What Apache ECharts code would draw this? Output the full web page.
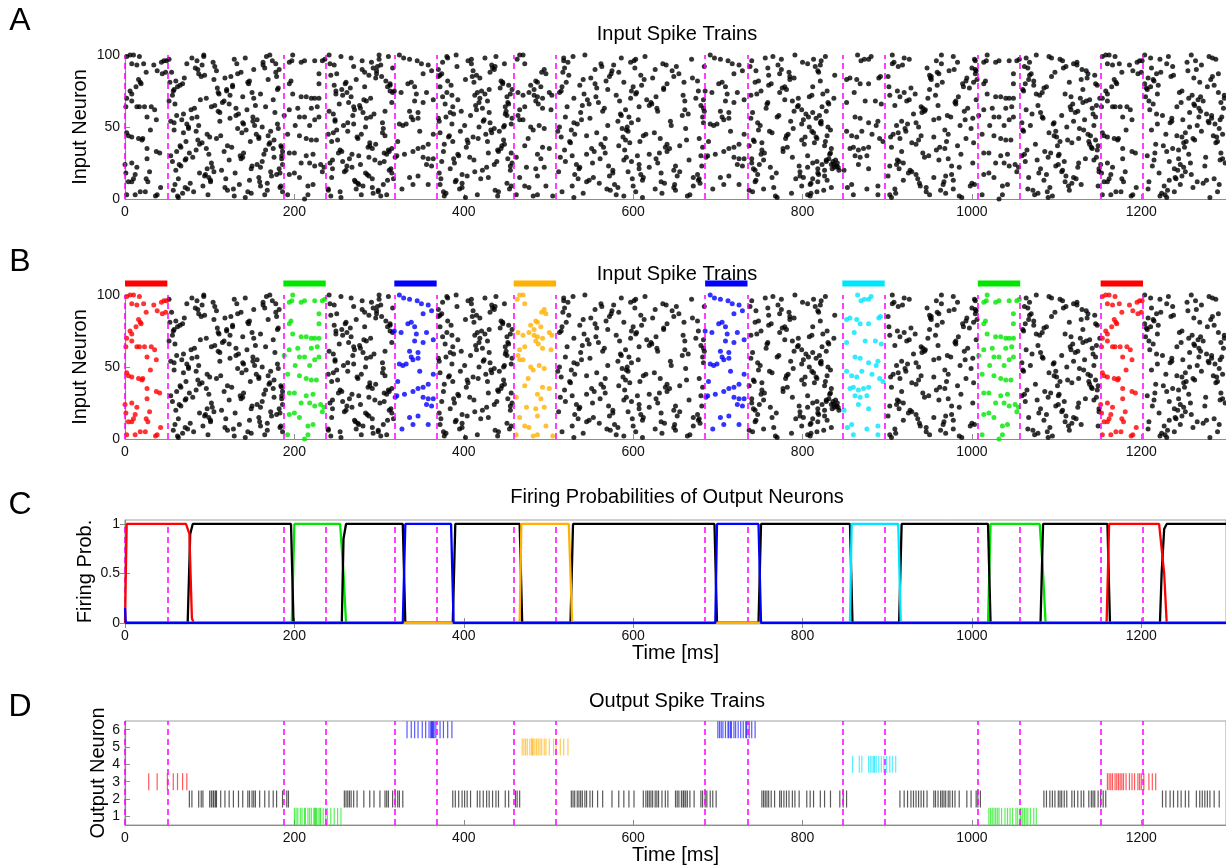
<!DOCTYPE html>
<html><head><meta charset="utf-8">
<script src="https://cdn.jsdelivr.net/npm/echarts@6/dist/echarts.min.js"></script>
<style>html,body{margin:0;padding:0;background:#fff;}#c{width:1226px;height:866px;}</style>
</head><body><div id="c"></div>
<script>
// ---------- DATA ----------
const xTicks = [0,200,400,600,800,1000,1200];
const windowStarts = [0,187,318,459,685,847,1007,1152];
const windowLen = 50;
const windowPattern = ['red','green','blue','orange','blue','cyan','green','red'];
const boundaries = [0,50,187,237,318,368,459,509,685,735,847,897,1007,1057,1152,1202];

// background input spikes (ms); row k belongs to input neuron bgRowNeuron[k]
const bgRowNeuron = [1,38,75,12,49,86,23,60,97,34,71,8,45,82,19,56,93,30,67,4,41,78,15,52,89,26,63,100,37,74,11,48,85,22,59,96,33,70,7,44,81,18,55,92,29,66,3,40,77,14,51,88,25,62,99,36,73,10,47,84,21,58,95,32,69,6,43,80,17,54,91,28,65,2,39,76,13,50,87,24,61,98,35,72,9,46,83,20,57,94,31,68,5,42,79,16,53,90,27,64];
const bgSpikes = [
[63,142,255,402,530,611,770,905,988,1090,1230,1281],
[88,170,296,377,448,562,640,802,934,1075,1139,1217],
[57,120,249,313,421,515,598,677,751,829,912,1061,1248],
[101,159,272,390,545,633,744,818,967,1110,1209,1266],
[75,133,181,305,436,587,662,789,921,999,1127,1292],
[94,243,288,372,415,524,609,760,838,950,1068,1145,1238],
[66,150,262,455,571,650,681,796,903,976,1099,1213,1275],
[112,177,281,384,430,538,741,812,941,1081,1122,1257],
[52,129,300,409,603,669,775,813,926,1003,1104,1222,1288],
[84,166,254,311,440,519,590,752,958,1065,1148,1244],
[139,267,375,451,556,627,808,915,984,1117,1205,1270],
[71,118,183,292,398,582,648,766,834,946,1092,1261],
[97,155,240,279,426,531,615,783,907,972,1137,1229,1296],
[60,147,308,381,444,568,676,748,821,993,1073,1215],
[105,172,259,413,512,594,655,797,929,1106,1150,1252],
[79,124,285,370,457,549,739,816,961,1001,1084,1236,1283],
[91,163,247,302,433,577,639,771,821,918,1124,1271],
[54,136,185,276,394,528,605,680,806,949,1059,1102,1207],
[115,264,315,418,452,559,621,759,830,980,1131,1247,1294],
[68,149,293,379,541,634,787,810,910,969,1078,1224],
[86,176,251,404,447,591,663,742,799,937,1113,1146,1263],
[62,127,283,310,372,516,600,779,812,902,990,1088,1211,1278],
[99,158,244,429,553,612,671,764,801,955,1067,1120,1240],
[73,140,180,270,386,456,534,799,822,924,1096,1219,1287],
[108,297,411,575,646,745,818,973,1005,1135,1255],
[56,162,257,306,374,439,520,598,817,828,914,1063,1109,1233],
[82,131,278,422,566,628,683,757,942,995,1142,1268,1297],
[93,171,241,300,391,543,791,906,964,1076,1204,1259],
[65,121,184,289,445,583,655,737,826,983,1101,1149,1226],
[110,150,262,316,380,416,513,604,773,920,1083,1245,1291],
[77,168,275,398,451,560,637,679,810,938,1000,1118,1273],
[58,143,250,432,527,592,748,833,968,1060,1132,1212],
[90,125,179,303,370,410,572,648,785,901,952,1094,1235,1284],
[103,160,268,427,537,619,762,806,985,1125,1250],
[69,134,246,294,388,449,585,665,804,931,1071,1143,1218,1277],
[85,174,280,405,518,601,740,822,958,1004,1107,1264],
[61,117,186,256,312,376,441,554,640,777,917,1086,1230],
[96,152,290,419,530,597,674,795,837,948,1128,1151,1256,1298],
[74,128,240,273,395,454,569,626,754,909,978,1066,1208],
[113,169,307,383,545,612,781,829,940,1097,1140,1242,1285],
[53,145,261,412,446,521,589,660,744,965,1002,1115,1269],
[88,130,183,284,315,371,576,633,769,818,925,1079,1221],
[67,156,248,424,539,606,801,955,992,1133,1249,1293],
[106,270,298,392,437,563,651,684,738,815,913,1062,1111,1237],
[80,139,176,288,407,514,592,788,944,1090,1147,1276],
[59,123,253,378,453,548,622,758,831,981,1119,1214,1262],
[98,165,279,309,416,580,667,806,903,950,1074,1228],
[72,148,244,387,428,525,608,743,827,970,1104,1138,1253,1290],
[109,181,266,443,557,636,776,928,997,1085,1206],
[63,119,292,317,373,420,535,599,678,792,812,936,1123,1241,1286],
[87,153,258,401,448,570,645,750,911,986,1069,1144,1266],
[55,137,178,283,431,517,583,784,819,959,1098,1223],
[102,242,301,389,457,552,629,740,812,919,1001,1126,1258,1299],
[78,144,271,415,591,661,799,945,1064,1117,1210],
[93,167,255,311,380,438,529,614,765,827,978,1091,1232,1280],
[66,126,185,287,403,565,638,682,782,905,962,1141,1251],
[111,160,249,425,455,542,603,746,824,933,1076,1110,1219],
[59,135,276,305,372,578,649,809,966,1003,1129,1246,1292],
[84,172,263,396,442,511,594,761,811,922,1061,1099,1271],
[70,118,296,419,550,623,670,790,951,994,1136,1208,1262],
[97,149,182,245,314,384,536,607,742,818,914,1081,1150,1239],
[61,131,269,408,451,586,658,772,820,971,1106,1225,1283],
[104,163,291,375,523,597,800,908,983,1068,1124,1254],
[76,140,252,306,429,456,567,631,755,833,942,1093,1216,1294],
[89,175,282,393,546,616,683,779,926,1005,1139,1267],
[57,121,168,240,299,437,573,650,737,825,963,1072,1115,1231],
[100,158,274,382,411,515,588,803,816,904,955,1100,1248,1289],
[68,146,260,313,446,555,640,763,989,1063,1146,1204],
[95,179,286,398,531,609,676,747,819,934,976,1088,1259],
[54,112,151,248,371,423,582,644,786,822,917,1120,1236,1279],
[83,165,293,316,434,519,602,759,947,1000,1066,1108,1212],
[72,137,185,265,388,452,561,627,740,831,972,1134,1244,1296],
[106,154,277,414,540,619,680,795,909,960,1078,1147,1263],
[62,129,243,302,377,440,589,664,768,809,985,1095,1222],
[91,171,289,405,526,596,752,814,929,1002,1118,1250,1288],
[58,120,180,256,430,457,570,636,781,950,1060,1131,1207],
[101,147,271,310,391,548,611,677,745,829,919,978,1085,1233,1277],
[75,162,284,418,447,513,593,808,830,937,1112,1257],
[87,133,250,297,374,574,654,773,961,1004,1070,1137,1218,1291],
[64,156,186,278,436,533,607,749,823,911,1102,1246],
[110,241,307,397,450,564,629,684,790,828,944,991,1125,1270],
[79,142,267,381,425,518,586,756,920,1064,1094,1211,1284],
[96,175,292,315,444,551,643,777,834,968,1142,1237],
[56,124,257,386,413,580,659,739,811,903,957,1080,1260,1298],
[92,160,184,281,456,528,600,671,799,939,998,1114,1149,1227],
[69,138,246,304,372,433,557,625,764,813,913,1091,1252],
[105,169,273,402,541,613,785,952,1006,1067,1129,1214,1282],
[60,114,261,312,422,455,576,648,744,826,927,1107,1243],
[85,151,290,379,520,595,682,770,807,975,1083,1146,1268,1295],
[73,132,178,242,409,448,562,635,806,906,964,1120,1230],
[99,164,268,309,393,545,619,751,832,987,1062,1103,1256],
[52,117,285,428,584,661,788,923,981,1135,1209,1273],
[81,145,186,254,299,376,441,516,603,741,817,946,1089,1239,1290],
[108,158,275,417,567,632,678,780,817,915,993,1126,1261],
[65,127,247,313,385,453,537,610,760,959,1073,1148,1220,1286],
[94,173,288,404,572,652,797,826,901,969,1111,1248],
[58,139,263,304,431,530,598,683,747,821,934,1059,1097,1234,1280],
[86,152,182,280,370,436,555,626,775,979,1004,1130,1265],
[71,123,245,295,412,589,666,754,828,912,961,1077,1144,1215,1293],
[102,166,270,387,449,522,607,794,823,940,1116,1242]
];
// small dense cluster of input spikes near 840 ms: [ms, neuron]
const bgCluster = [[835,21],[838,22],[840,23],[837,24],[841,25],[836,26],[839,27],[842,22],[834,24],[843,20]];

// repeated input patterns: [ms from window start, neuron]
const patRed = [[2,99],[6,100],[10,100],[17,99],[8,94],[14,93],[22,94],[34,93],[43,95],[46,96],[49,96],[38,89],[44,87],[48,88],[16,83],[18,81],[19,80],[6,75],[8,73],[2,70],[8,68],[1,64],[14,64],[17,64],[23,64],[31,64],[35,62],[26,57],[37,55],[2,46],[4,44],[8,43],[16,42],[21,42],[20,41],[26,35],[37,33],[41,32],[26,28],[8,25],[0,24],[14,22],[29,19],[1,18],[12,17],[10,14],[25,14],[8,12],[27,12],[4,12],[18,5],[24,5],[12,3],[36,2],[38,3],[2,3],[42,8],[30,48],[13,78],[25,88]];
const patGreen = [[11,100],[7,95],[10,96],[21,95],[25,96],[37,96],[46,96],[49,97],[42,87],[9,82],[7,80],[42,80],[11,73],[21,71],[27,71],[33,70],[37,70],[42,70],[7,62],[17,63],[33,63],[40,64],[1,58],[19,57],[25,57],[37,55],[42,57],[14,51],[31,51],[5,45],[19,44],[27,42],[33,41],[39,41],[7,32],[13,32],[27,30],[35,31],[21,25],[31,25],[37,23],[44,24],[48,22],[7,17],[13,18],[46,19],[19,15],[29,9],[35,10],[5,3],[29,3],[25,0]];
const patBlue = [[6,100],[11,98],[18,97],[27,96],[32,94],[40,93],[34,87],[44,89],[20,81],[16,80],[24,78],[8,74],[0,75],[26,73],[38,74],[46,69],[24,68],[34,67],[18,61],[28,60],[20,57],[22,55],[28,56],[6,52],[10,51],[14,52],[30,47],[40,38],[34,36],[28,35],[22,33],[12,31],[3,30],[1,29],[34,29],[40,28],[46,28],[38,24],[44,23],[18,15],[22,10],[28,16],[40,10],[9,7],[46,45],[4,40]];
const patOrange = [[7,100],[11,100],[4,97],[13,94],[36,90],[33,88],[38,87],[26,82],[28,81],[20,79],[24,76],[32,78],[18,74],[11,72],[5,74],[24,72],[28,71],[34,70],[26,68],[42,74],[45,72],[7,62],[13,64],[34,63],[29,66],[44,62],[5,58],[7,55],[11,55],[20,50],[23,48],[30,51],[36,49],[17,42],[13,37],[34,36],[42,35],[28,31],[3,29],[32,28],[15,22],[26,21],[36,22],[7,15],[28,16],[13,9],[18,8],[38,9],[3,3],[23,2],[28,3],[46,2]];
const patCyan = [[18,100],[22,96],[26,97],[31,97],[34,99],[5,83],[9,84],[17,83],[21,80],[31,80],[43,84],[45,85],[14,74],[5,67],[27,68],[39,68],[46,66],[15,57],[21,56],[31,53],[42,54],[40,51],[5,47],[11,44],[17,43],[23,47],[35,45],[44,42],[9,35],[13,36],[19,34],[25,35],[31,36],[15,30],[21,29],[29,30],[19,24],[31,21],[11,10],[6,8],[29,7],[42,9],[13,3],[42,3],[48,40],[2,20]];

// firing probabilities of output neurons: [ms, prob]
const probGreen = [[0,0],[197,0],[200,1],[254,1],[258,0.5],[261,0],[1019,0],[1022,1],[1080,1],[1084,0.5],[1087,0],[1300,0]];
const probBlack = [[0,0],[74,0],[77,0.9],[80,1],[196,1],[199,0],[256,0],[258,0.85],[261,1],[328,1],[331,0],[387,0],[390,1],[466,1],[469,0],[526,0],[529,1],[696,1],[699,0],[748,0],[751,1],[856,1],[859,0],[914,0],[917,1],[1019,1],[1022,0],[1081,0],[1084,1],[1160,1],[1163,0],[1222,0],[1224,0.5],[1227,0.95],[1230,1],[1300,1]];
const probRed = [[0,0],[2,1],[72,1],[76,0.9],[79,0.05],[81,0],[1159,0],[1162,1],[1221,1],[1227,0.5],[1230,0],[1300,0]];
const probCyan = [[0,0],[856,0],[858,1],[913,1],[916,0],[1300,0]];
const probOrange = [[0,0],[466,0],[468,1],[524,1],[528,0],[1300,0]];
const probBlue = [[0,0.15],[1,0],[328,0],[331,1],[385,1],[388,0],[697,0],[699,1],[748,1],[751,0],[1300,0]];

// output spike trains (ms), by output neuron
const out1Green = [200,202,204,207,209,212,213,216,218,220,223,224,225,226,228,230,231,234,237,239,243,247,251,255,1020,1022,1024,1026,1028,1030,1032,1035,1039,1042,1045,1048,1052,1054,1057,1058,1060,1062,1064,1066,1069,1073,1076];
const out2Black = [76,79,87,90,92,100,102,104,105,107,108,113,118,123,128,134,139,145,147,150,152,154,159,165,170,175,179,186,191,193,
259,261,263,265,267,270,274,282,289,294,301,307,309,311,316,319,322,324,328,
387,390,394,398,401,404,408,416,419,423,427,430,434,438,441,449,453,461,463,466,
527,529,531,534,536,538,540,543,545,549,552,558,564,575,583,589,595,601,612,615,617,619,621,623,626,628,
630,634,638,641,650,652,654,657,659,660,662,664,667,672,680,682,685,687,691,694,698,
752,754,756,758,760,763,767,773,775,778,781,784,788,791,796,805,809,813,821,826,833,844,848,852,
915,920,924,928,931,934,937,940,943,947,955,957,960,963,965,967,969,972,974,977,980,985,994,999,1005,1007,1010,
1085,1088,1092,1095,1098,1102,1104,1106,1109,1112,1118,1121,1125,1129,1132,1138,1141,1143,1145,1149,1152,1155,1158,
1225,1229,1234,1238,1243,1247,1252,1256,1265,1269,1272,1275,1278,1281,1286,1292];
const out3Red = [28,38,50,57,62,68,73,1160,1162,1164,1166,1169,1171,1173,1175,1177,1179,1182,1186,1189,1192,1196,1198,1200,1203,1209,1213,1217];
const out4Cyan = [859,867,870,878,880,882,884,885,887,890,893,896,899,903,906,910];
const out5Orange = [469,471,473,475,478,480,481,482,484,486,488,490,492,495,497,501,506,509,514,518,523];
const out6Blue = [333,338,342,346,351,355,359,361,362,363,364,365,367,372,376,381,386,700,702,704,706,709,712,713,715,716,719,721,724,727,730,733,734,737,740,744];

// ---------- BUILD ----------
const FONT = '"Liberation Sans", Arial, Helvetica, sans-serif';
const COL = {red:'#ff0000', green:'#00e600', blue:'#0000ff', orange:'#ffb000', cyan:'#00e5ff', black:'#000000', magenta:'#ff00ff'};
const grey = '#8c8c8c';

const bgPoints = [];
bgSpikes.forEach((row,k)=>row.forEach(t=>bgPoints.push([t,bgRowNeuron[k]])));
bgCluster.forEach(p=>bgPoints.push([p[0],p[1]]));
const patterns = {red:patRed, green:patGreen, blue:patBlue, orange:patOrange, cyan:patCyan};
const patPoints = {red:[],green:[],blue:[],orange:[],cyan:[]};
windowStarts.forEach((s,k)=>{const c=windowPattern[k]; patterns[c].forEach(p=>patPoints[c].push([s+p[0],p[1]]));});
const allPoints = bgPoints.concat(patPoints.red,patPoints.green,patPoints.blue,patPoints.orange,patPoints.cyan);

const GL = 125, GW = 1103;
const grids = [
  {left:GL,width:GW,top:55,height:144},
  {left:GL,width:GW,top:295,height:144},
  {left:GL,width:GW,top:520,height:103,show:true,borderColor:'#a0a0a0',borderWidth:1},
  {left:GL,width:GW,top:721,height:104,show:true,borderColor:'#a0a0a0',borderWidth:1}
];
function xAx(g, name){
  return {type:'value',gridIndex:g,min:0,max:1300,
    axisLine:{show:true,onZero:false,lineStyle:{color:grey,width:1.2}},
    axisTick:{show:true,inside:true,length:5,customValues:xTicks,lineStyle:{color:grey}},
    axisLabel:{customValues:xTicks,fontSize:14,color:'#111',margin:6,fontFamily:FONT,formatter:v=>String(v)},
    splitLine:{show:false},
    name:name||'',nameLocation:'middle',nameGap:20,nameMoveOverlap:false,nameTextStyle:{fontSize:20,color:'#000',fontFamily:FONT}};
}
function yAx(g, min, max, vals, name, gap){
  return {type:'value',gridIndex:g,min:min,max:max,
    axisLine:{show:true,onZero:false,lineStyle:{color:grey,width:1.2}},
    axisTick:{show:true,inside:true,length:5,customValues:vals,lineStyle:{color:grey}},
    axisLabel:{customValues:vals,fontSize:14,color:'#111',margin:5,fontFamily:FONT,formatter:v=>String(v)},
    splitLine:{show:false},
    name:name,nameLocation:'middle',nameRotate:90,nameGap:gap,nameMoveOverlap:false,nameTextStyle:{fontSize:20,color:'#000',fontFamily:FONT}};
}
const xAxes = [xAx(0), xAx(1), xAx(2,'Time [ms]'), xAx(3,'Time [ms]'),
  {type:'value',gridIndex:2,position:'top',min:0,max:1300,axisLine:{show:false},axisTick:{inside:true,length:5,customValues:xTicks,lineStyle:{color:grey}},axisLabel:{show:false},splitLine:{show:false}}];
const yAxes = [
  yAx(0,0,100,[0,50,100],'Input Neuron',35),
  yAx(1,0,100,[0,50,100],'Input Neuron',35),
  yAx(2,0,1.04,[0,0.5,1],'Firing Prob.',30),
  yAx(3,0.5,6.5,[1,2,3,4,5,6],'Output Neuron',17),
  {type:'value',gridIndex:2,position:'right',min:0,max:1.04,axisLine:{show:false},axisTick:{inside:true,length:5,customValues:[0,0.5,1],lineStyle:{color:grey}},axisLabel:{show:false},splitLine:{show:false}}
];

const mlStyle = {color:COL.magenta,type:[6,4],width:1.5};
function fullMarkLine(){ return {silent:true,symbol:['none','none'],label:{show:false},lineStyle:mlStyle,animation:false,data:boundaries.map(b=>({xAxis:b}))}; }

const series = [];
const dotSize = 5;
series.push({type:'scatter',xAxisIndex:0,yAxisIndex:0,data:allPoints,symbolSize:dotSize,itemStyle:{color:'#000'},progressive:0,markLine:fullMarkLine(),z:3});
series.push({type:'scatter',xAxisIndex:1,yAxisIndex:1,data:bgPoints,symbolSize:dotSize,itemStyle:{color:'#000'},progressive:0,markLine:fullMarkLine(),z:3});
['red','green','blue','orange','cyan'].forEach(c=>{
  series.push({type:'scatter',xAxisIndex:1,yAxisIndex:1,data:patPoints[c],symbolSize:dotSize,itemStyle:{color:COL[c]},progressive:0,z:4});
});
windowStarts.forEach((s,k)=>{
  series.push({type:'line',xAxisIndex:1,yAxisIndex:1,data:[[s,108],[s+windowLen,108]],symbol:'none',clip:false,lineStyle:{color:COL[windowPattern[k]],width:6,cap:'butt'},z:5});
});
const probs = [['green',probGreen],['black',probBlack],['red',probRed],['cyan',probCyan],['orange',probOrange],['blue',probBlue]];
probs.forEach(([c,d],i)=>{
  const s = {type:'line',xAxisIndex:2,yAxisIndex:2,data:d,symbol:'none',lineStyle:{color:COL[c],width:2.3},z:4+i};
  if(i===0){ s.markLine = {silent:true,symbol:['none','none'],label:{show:false},lineStyle:mlStyle,animation:false,
    data:boundaries.map(b=>[{coord:[b,0]},{coord:[b,1]}])}; }
  series.push(s);
});
const outs = [[1,'green',out1Green],[2,'black',out2Black],[3,'red',out3Red],[4,'cyan',out4Cyan],[5,'orange',out5Orange],[6,'blue',out6Blue]];
outs.forEach(([n,c,d],i)=>{
  const s = {type:'scatter',xAxisIndex:3,yAxisIndex:3,data:d.map(t=>[t,n]),symbol:'rect',symbolSize:[1.2,17],itemStyle:{color:COL[c],opacity:0.65},progressive:0,z:4};
  if(i===0) s.markLine = fullMarkLine();
  series.push(s);
});

const txt = (t,x,y,size)=>({type:'text',x:x,y:y,style:{text:t,fontSize:size,fontFamily:FONT,fill:'#000',align:'center',verticalAlign:'middle'},z:10});
const graphic = [
  txt('A',20,21,32), txt('B',20,262,32), txt('C',20,505,32), txt('D',20,707,32),
  txt('Input Spike Trains',677,34,20), txt('Input Spike Trains',677,274,20),
  txt('Firing Probabilities of Output Neurons',677,497,20), txt('Output Spike Trains',677,701,20)
];

const chart = echarts.init(document.getElementById('c'),null,{renderer:'canvas'});
chart.setOption({animation:false,backgroundColor:'#fff',grid:grids,xAxis:xAxes,yAxis:yAxes,series:series,graphic:graphic});
</script></body></html>
